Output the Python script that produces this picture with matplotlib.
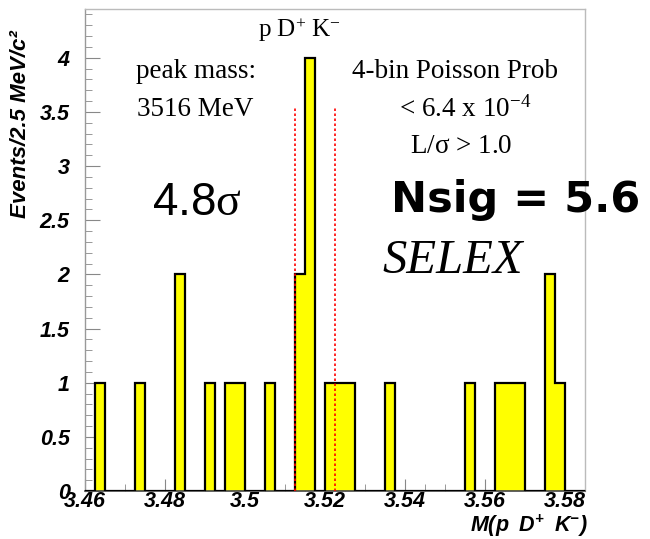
import numpy as np
import matplotlib
matplotlib.use("Agg")
import matplotlib.pyplot as plt
from matplotlib.ticker import MultipleLocator

plt.rcParams['mathtext.fontset'] = 'custom'
plt.rcParams['mathtext.rm'] = 'Liberation Serif'
plt.rcParams['mathtext.it'] = 'Liberation Serif:italic'
plt.rcParams['mathtext.bf'] = 'Liberation Sans:bold:italic'
plt.rcParams['mathtext.default'] = 'rm'

# ---- data ----
bin_low = 3.46
bin_width = 0.0025
n_bins = 50
counts = [0, 1, 0, 0, 0, 1, 0, 0, 0, 2,
          0, 0, 1, 0, 1, 1, 0, 0, 1, 0,
          0, 2, 4, 0, 1, 1, 1, 0, 0, 0,
          1, 0, 0, 0, 0, 0, 0, 0, 1, 0,
          0, 1, 1, 1, 0, 0, 2, 1, 0, 0]
window_edges = [3.5125, 3.5225]
window_height = 3.55
xticks = [3.46, 3.48, 3.50, 3.52, 3.54, 3.56, 3.58]
xtick_labels = ["3.46", "3.48", "3.5", "3.52", "3.54", "3.56", "3.58"]
yticks = [0, 0.5, 1, 1.5, 2, 2.5, 3, 3.5, 4]
ytick_labels = ["0", "0.5", "1", "1.5", "2", "2.5", "3", "3.5", "4"]

edges = bin_low + bin_width * np.arange(n_bins + 1)

W, H = 650, 539
fig = plt.figure(figsize=(W / 100, H / 100), dpi=100)
ax = fig.add_axes([85 / W, 1 - 491 / H, (585 - 85) / W, (491 - 9) / H])

ax.stairs(counts, edges, fill=True, color='#ffff00', zorder=2)
ax.stairs(counts, edges, color='black', linewidth=1.6, zorder=3)
for xv in window_edges:
    ax.plot([xv, xv], [0, window_height], color='red', linestyle=(0, (1.5, 1.5)),
            linewidth=1.2, zorder=4)

ax.set_xlim(edges[0], edges[-1])
ax.set_ylim(0, 4.45)

ax.set_xticks(xticks)
ax.set_xticklabels(xtick_labels)
ax.set_yticks(yticks)
ax.set_yticklabels(ytick_labels)
ax.xaxis.set_minor_locator(MultipleLocator(0.005))
ax.yaxis.set_minor_locator(MultipleLocator(0.1))

tickfont = dict(family='Liberation Sans', weight='bold', style='italic', size=15.5)
for lab in ax.get_xticklabels() + ax.get_yticklabels():
    lab.set_fontproperties(matplotlib.font_manager.FontProperties(**tickfont))

ax.tick_params(axis='both', which='both', direction='in', color='#888888', zorder=5)
ax.tick_params(axis='x', which='major', length=9, pad=0)
ax.tick_params(axis='x', which='minor', length=5)
ax.tick_params(axis='y', which='major', length=11, pad=11)
ax.tick_params(axis='y', which='minor', length=5)

for s in ['top', 'right']:
    ax.spines[s].set_color('#bbbbbb')
    ax.spines[s].set_linewidth(1.0)
ax.spines['left'].set_color('#999999')
ax.spines['bottom'].set_color('#444444')
ax.spines['left'].set_linewidth(1.0)
ax.spines['bottom'].set_linewidth(1.2)


def ft(x, y, s, **kw):
    fig.text(x / W, 1 - y / H, s, ha='center', va='center', **kw)


serif = dict(family='Liberation Serif')
ft(300, 30, r'p D$^{+}$ K$^{-}$', fontsize=18, **serif)
ft(196, 71, 'peak mass:', fontsize=19.5, **serif)
ft(195, 109, '3516 MeV', fontsize=19.5, **serif)
ft(455, 71, '4-bin Poisson Prob', fontsize=19.5, **serif)
ft(465, 109, r'< 6.4 x 10$^{-4}$', fontsize=19.5, **serif)
ft(461, 146, r'L/$\sigma$ > 1.0', fontsize=19.5, **serif)
ft(197, 203, r'4.8$\sigma$', fontsize=33, family='Liberation Sans')
ft(516, 200, 'Nsig = 5.6', fontsize=31, family='DejaVu Sans', weight='bold')
ft(453, 261, 'SELEX', fontsize=35, family='Liberation Serif', style='italic')

fig.text(21 / W, 1 - 124 / H, 'Events/2.5 MeV/c²', rotation=90, ha='center', va='center',
         family='Liberation Sans', weight='bold', style='italic', fontsize=16)
fig.text(588 / W, 1 - 526 / H, r'$\mathbf{M(p\ \ D^{+}\ \ K^{-})}$', ha='right', va='center',
         fontsize=15.5)

fig.savefig('out.png', dpi=100)
